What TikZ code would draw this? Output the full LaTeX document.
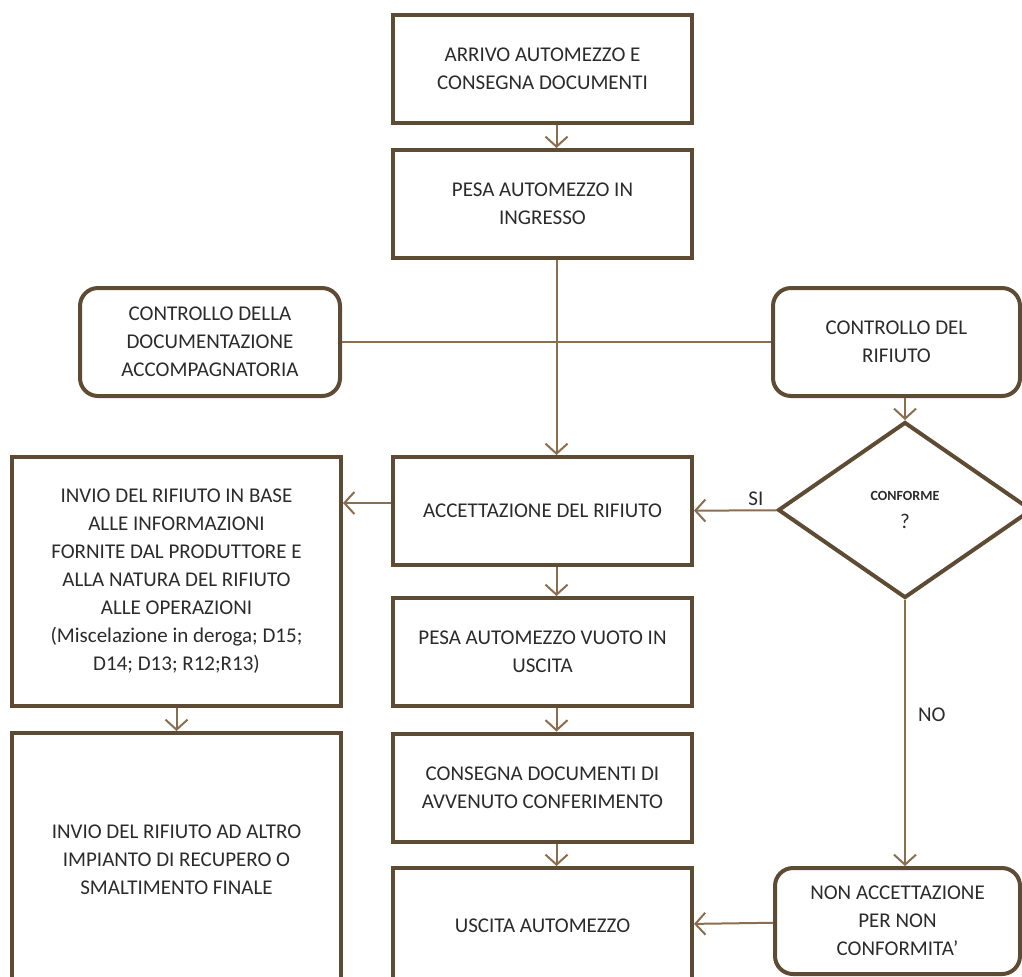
\documentclass[tikz,border=0pt]{standalone}
\usepackage{fontspec}
\setmainfont{Carlito}
\usetikzlibrary{shapes.geometric,arrows.meta}
\definecolor{boxline}{HTML}{5E4B33}
\definecolor{linkline}{HTML}{8A6E4F}
\definecolor{txt}{HTML}{2B2B2B}
\begin{document}
\begin{tikzpicture}[x=0.5pt, y=-0.5pt,
  every node/.style = {align=center, text=txt, inner sep=0pt,
    font=\fontsize{10.5}{14}\selectfont},
  box/.style = {draw=boxline, line width=2pt,
    minimum width=149.5pt, minimum height=54pt},
  roundbox/.style = {box, rounded corners=9pt},
  decision/.style = {draw=boxline, line width=2pt, diamond,
    minimum width=127pt, minimum height=88pt},
  link/.style = {draw=linkline, line width=1pt},
  arrow/.style = {link, -{Straight Barb[length=5pt,width=11pt]}}]
  \clip (0,0) rectangle (1022,976);
  \node[box] (arrivo) at (542.5,68.5) {ARRIVO AUTOMEZZO E\\CONSEGNA DOCUMENTI};
  \node[box] (pesa) at (542.5,204) {PESA AUTOMEZZO IN\\INGRESSO};
  \node[roundbox, minimum width=130pt] (doc) at (210,342)
    {CONTROLLO DELLA\\DOCUMENTAZIONE\\ACCOMPAGNATORIA};
  \node[roundbox, minimum width=123.5pt] (rifiuto) at (896.5,342)
    {CONTROLLO DEL\\RIFIUTO};
  \node[box] (accett) at (542.5,511) {ACCETTAZIONE DEL RIFIUTO};
  \node[decision] (conforme) at (905,510)
    {\fontsize{7}{11}\selectfont\textbf{CONFORME}\\?};
  \node[box, minimum width=164.5pt, minimum height=124.5pt] (invio) at (176.5,581.5)
    {INVIO DEL RIFIUTO IN BASE\\ALLE INFORMAZIONI\\FORNITE DAL PRODUTTORE E\\
     ALLA NATURA DEL RIFIUTO\\ALLE OPERAZIONI\\(Miscelazione in deroga; D15;\\
     D14; D13; R12;R13)};
  \node[box] (vuoto) at (542.5,652) {PESA AUTOMEZZO VUOTO IN\\USCITA};
  \node[box] (consegna) at (542.5,787.5) {CONSEGNA DOCUMENTI DI\\AVVENUTO CONFERIMENTO};
  \node[box, minimum width=164.5pt, minimum height=127pt] (altro) at (176.5,860)
    {INVIO DEL RIFIUTO AD ALTRO\\IMPIANTO DI RECUPERO O\\SMALTIMENTO FINALE};
  \node[box, minimum height=58pt] (uscita) at (542.5,926) {USCITA AUTOMEZZO};
  \node[roundbox, minimum width=122.5pt, minimum height=53pt] (nonacc) at (897.5,921)
    {NON ACCETTAZIONE\\PER NON\\CONFORMITA’};

  \draw[arrow] ([xshift=7pt]arrivo.south) -- ([xshift=7pt]pesa.north);
  \draw[link] (doc) -- (rifiuto);
  \draw[arrow] ([xshift=7pt]pesa.south) -- ([xshift=7pt]accett.north);
  \draw[arrow] (rifiuto.south -| conforme) -- (conforme.north);
  \draw[arrow] (conforme) -- (accett) node[pos=0.25, above=2pt] {SI};
  \draw[arrow] ([yshift=4pt]accett.west) -- ([yshift=4pt]accett.west -| invio.east);
  \draw[arrow] (invio) -- (altro);
  \draw[arrow] ([xshift=7pt]accett.south) -- ([xshift=7pt]vuoto.north);
  \draw[arrow] ([xshift=7pt]vuoto.south) -- ([xshift=7pt]consegna.north);
  \draw[arrow] ([xshift=7pt]consegna.south) -- ([xshift=7pt]uscita.north);
  \draw[arrow] (conforme.south) -- (conforme.south |- nonacc.north)
    node[pos=0.43, right=6pt] {NO};
  \draw[arrow] (nonacc) -- (uscita);
\end{tikzpicture}
\end{document}
